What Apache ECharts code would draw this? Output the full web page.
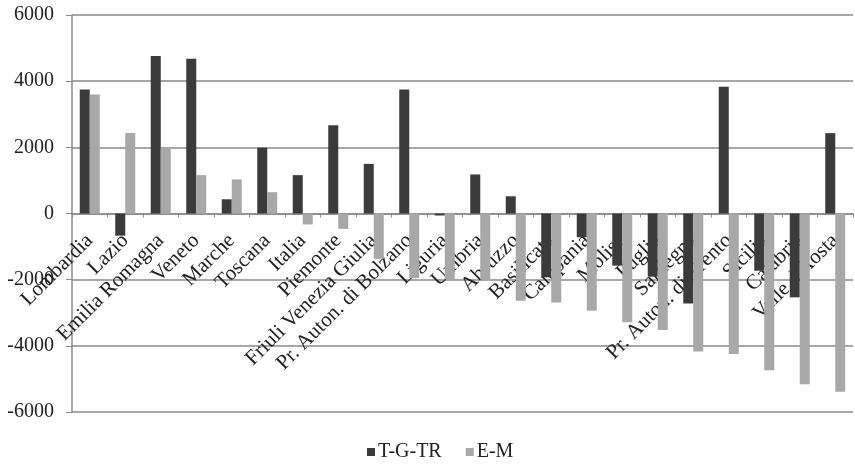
<!DOCTYPE html>
<html>
<head>
<meta charset="utf-8">
<script src="https://cdn.jsdelivr.net/npm/echarts@6/dist/echarts.min.js"></script>
<style>html,body{margin:0;padding:0;background:#fff;}#c{width:855px;height:464px;}</style>
</head>
<body>
<div id="c"></div>
<script>
const categories = ["Lombardia","Lazio","Emilia Romagna","Veneto","Marche","Toscana","Italia","Piemonte","Friuli Venezia Giulia","Pr. Auton. di Bolzano","Liguria","Umbria","Abruzzo","Basilicata","Campania","Molise","Puglia","Sardegna","Pr. Auton. di Trento","Sicilia","Calabria","Valle d'Aosta"];
const tgtr = [3750,-670,4760,4680,430,1990,1160,2670,1500,3750,-60,1180,520,-1930,-720,-1575,-1910,-2720,3830,-1730,-2535,2430];
const em = [3600,2430,1990,1160,1030,645,-330,-465,-1370,-1950,-1980,-2000,-2640,-2690,-2940,-3290,-3525,-4170,-4250,-4740,-5160,-5385];
const yTicks = {min:-6000, max:6000, interval:2000};

const chart = echarts.init(document.getElementById('c'));
const font = '"Liberation Serif", "DejaVu Serif", serif';
const gridTop = 15, gridBottom = 52, H = 464;
const zeroOffset = -(H - gridTop - gridBottom) / 2;
chart.setOption({
  animation:false,
  backgroundColor:'#fff',
  textStyle:{fontFamily:font},
  grid:{left:72, right:2, top:gridTop, bottom:gridBottom, containLabel:false, outerBoundsMode:'none'},
  legend:{
    top:437, left:362, itemWidth:8, itemHeight:8, itemGap:24,
    icon:'rect',
    textStyle:{fontFamily:font, fontSize:20, color:'#222', padding:[0,0,0,-2]},
    data:['T-G-TR','E-M']
  },
  xAxis:{
    type:'category', data:categories, position:'bottom', offset:zeroOffset, z:0,
    axisLine:{onZero:false, lineStyle:{color:'#8a8a8a', width:1.5}},
    axisTick:{show:true, length:4, lineStyle:{color:'#8a8a8a'}},
    axisLabel:{rotate:45, interval:0, fontFamily:font, fontSize:21, color:'#222', margin:24, hideOverlap:false}
  },
  yAxis:{
    type:'value', min:yTicks.min, max:yTicks.max, interval:yTicks.interval,
    axisLine:{show:true, lineStyle:{color:'#8a8a8a', width:1.5}},
    axisTick:{show:true, length:6, lineStyle:{color:'#8a8a8a'}},
    axisLabel:{fontFamily:font, fontSize:20, color:'#222', margin:18, formatter:function(v){return String(v);}},
    splitLine:{lineStyle:{color:'#8a8a8a', width:1.5}}
  },
  series:[
    {name:'T-G-TR', type:'bar', z:5, data:tgtr, barWidth:10, barGap:'0%', itemStyle:{color:'#3b3b3b'}},
    {name:'E-M', type:'bar', z:5, data:em, barWidth:10, barGap:'0%', itemStyle:{color:'#a8a8a8'}}
  ]
});
</script>
</body>
</html>
